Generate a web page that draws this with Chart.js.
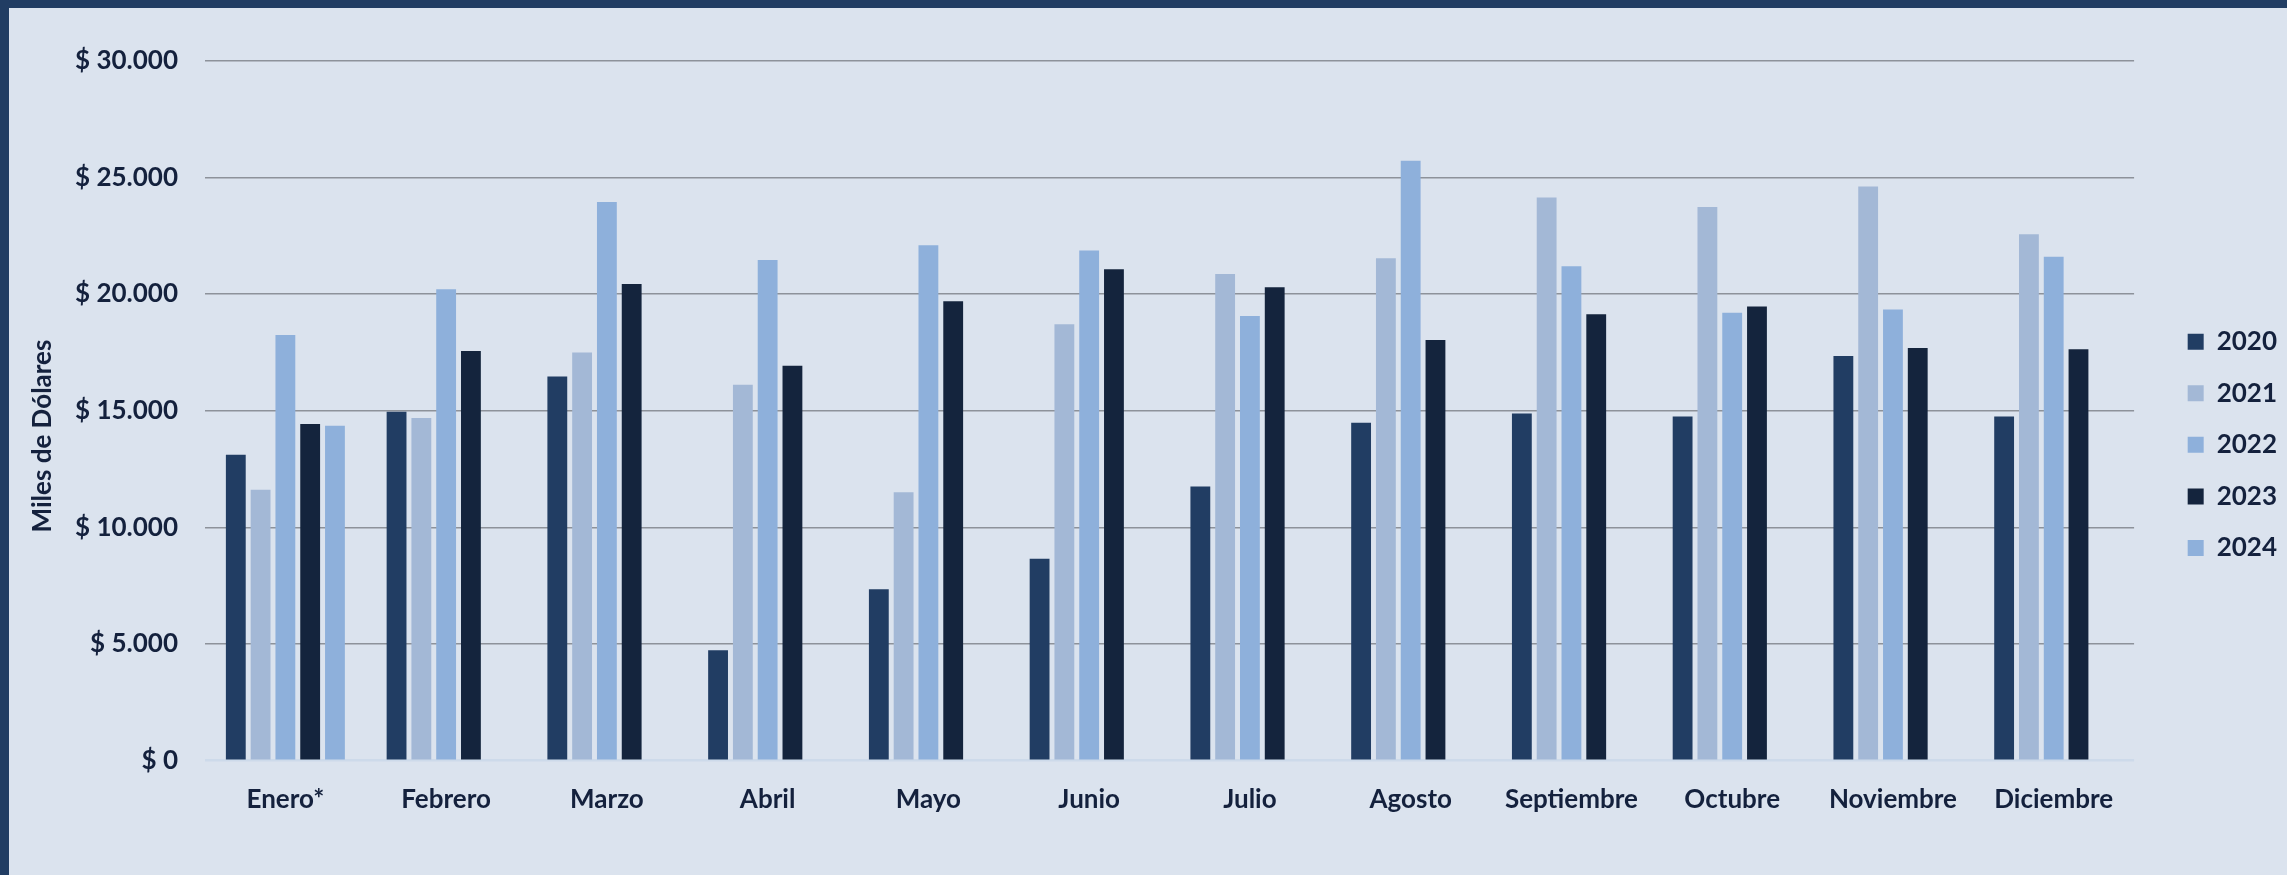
<!DOCTYPE html>
<html>
<head>
<meta charset="utf-8">
<script src="https://cdn.jsdelivr.net/npm/chart.js@4.4.1/dist/chart.umd.min.js"></script>
<style>
  html, body { margin: 0; padding: 0; background: #dbe3ee; overflow: hidden; }
  #frame { position: absolute; left: 0; top: 0; width: 2287px; height: 875px; box-sizing: border-box;
           border-top: 8px solid #213d63; border-left: 9px solid #213d63; background: #dbe3ee; }
  canvas { display: block; }
</style>
</head>
<body>
<div id="frame"><canvas id="c" width="2278" height="867"></canvas></div>
<script>
// ---- data ----
const categories = ['Enero*', 'Febrero', 'Marzo', 'Abril', 'Mayo', 'Junio', 'Julio', 'Agosto', 'Septiembre', 'Octubre', 'Noviembre', 'Diciembre'];
const seriesNames = ['2020', '2021', '2022', '2023', '2024'];
const values2020 = [13110, 14950, 16470, 4730, 7350, 8650, 11750, 14480, 14880, 14750, 17340, 14750];
const values2021 = [11610, 14690, 17490, 16110, 11510, 18710, 20860, 21530, 24140, 23730, 24610, 22560];
const values2022 = [18240, 20210, 23940, 21460, 22090, 21870, 19060, 25710, 21190, 19200, 19340, 21600];
const values2023 = [14430, 17560, 20430, 16930, 19690, 21060, 20290, 18030, 19130, 19470, 17690, 17630];
const values2024 = [14360, null, null, null, null, null, null, null, null, null, null, null];
const yTickLabels = ['$ 0', '$ 5.000', '$ 10.000', '$ 15.000', '$ 20.000', '$ 25.000', '$ 30.000'];
const yAxisTitle = 'Miles de Dólares';

const seriesValues = [values2020, values2021, values2022, values2023, values2024];
const seriesColors = ['#213d63', '#a3b8d6', '#8eb0db', '#14243d', '#8eb0db'];
const textColor = '#14213d';

const yTitlePlugin = {
  id: 'yTitleCustom',
  afterDraw(chart) {
    const ctx = chart.ctx;
    ctx.save();
    ctx.translate(34, 428);
    ctx.rotate(-Math.PI / 2);
    ctx.font = 'bold 26px Lato';
    ctx.fillStyle = textColor;
    ctx.textAlign = 'center';
    ctx.textBaseline = 'middle';
    ctx.fillText(yAxisTitle, 0, 0);
    ctx.restore();
  }
};

function draw() {
  Chart.defaults.font.family = 'Lato';
  Chart.defaults.font.weight = 'bold';
  Chart.defaults.color = textColor;

  new Chart(document.getElementById('c'), {
    type: 'bar',
    data: {
      labels: categories,
      datasets: seriesNames.map((name, i) => ({
        label: name,
        data: seriesValues[i],
        backgroundColor: seriesColors[i],
        borderWidth: 0,
        categoryPercentage: 0.771,
        barPercentage: 0.8
      }))
    },
    options: {
      responsive: false,
      animation: false,
      events: [],
      layout: { padding: { top: 52.7, bottom: 46, left: 0, right: 0 } },
      plugins: {
        tooltip: { enabled: false },
        legend: {
          position: 'right',
          align: 'center',
          labels: {
            boxWidth: 16,
            boxHeight: 16,
            padding: 25.6,
            color: textColor,
            font: { size: 26, weight: 'bold', family: 'Lato' }
          }
        }
      },
      scales: {
        x: {
          grid: { display: false, drawTicks: false },
          border: { display: false },
          ticks: { padding: 23, color: textColor, font: { size: 26, weight: 'bold' }, maxRotation: 0, autoSkip: false },
          afterFit: (s) => { s.height = 68.3; }
        },
        y: {
          min: 0, max: 30000,
          ticks: {
            stepSize: 5000,
            padding: 27,
            color: textColor,
            font: { size: 26, weight: 'bold' },
            callback: (v) => yTickLabels[Math.round(v / 5000)]
          },
          grid: {
            drawTicks: false,
            color: (c) => (c.tick && c.tick.value === 0) ? '#cddaea' : '#8d929a',
            lineWidth: (c) => (c.tick && c.tick.value === 0) ? 2.5 : 1.6
          },
          border: { display: false },
          afterFit: (s) => { s.width = 196; }
        },
        yGap: {
          position: 'right',
          display: true,
          grid: { display: false, drawTicks: false },
          border: { display: false },
          ticks: { display: false },
          afterFit: (s) => { s.width = 28; }
        }
      }
    },
    plugins: [yTitlePlugin]
  });
}

if (document.fonts && document.fonts.load) {
  document.fonts.load('bold 26px Lato').then(draw, draw);
} else {
  draw();
}
</script>
</body>
</html>
